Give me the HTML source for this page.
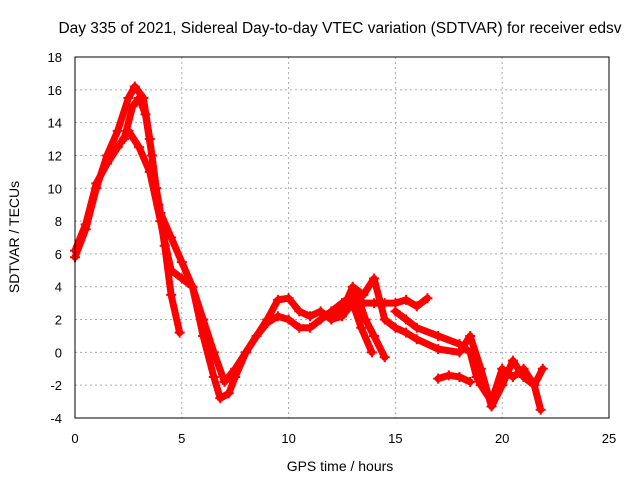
<!DOCTYPE html>
<html><head><meta charset="utf-8"><style>
body{margin:0;background:#fff}
svg{display:block;font-family:"Liberation Sans",sans-serif}
</style></head><body>
<svg id="c" width="640" height="480">
<rect width="640" height="480" fill="#fff"/>
<text x="340" y="33" font-size="15.5" text-anchor="middle">Day 335 of 2021, Sidereal Day-to-day VTEC variation (SDTVAR) for receiver edsv</text>
<g id="grid"></g><g id="series"></g>
<rect x="75" y="57" width="534" height="361" fill="none" stroke="#000"/>
<text x="340" y="471" font-size="14" text-anchor="middle">GPS time / hours</text>
<text transform="translate(19,237) rotate(-90)" font-size="14" text-anchor="middle">SDTVAR / TECUs</text>
</svg>
<script>
const xTicks=[0,5,10,15,20,25];
const yTicks=[-4,-2,0,2,4,6,8,10,12,14,16,18];
const trackA=[[0,5.8],[0.5,7.5],[1,10],[1.5,12],[2,13.5],[2.5,15.5],[2.8,16.2],[3.2,15.5],[3.5,13],[3.8,10],[4,8.5],[4.5,7],[5,5.5],[5.5,4],[6,2],[6.5,0],[7,-1.8],[7.5,-1],[8,0],[8.5,1],[9,1.8],[9.5,2.2],[10,2],[10.5,1.5],[11,1.5],[11.5,2],[12,2.5],[12.5,3],[13,3.5],[13.5,3],[14,3],[14.5,3],[15,3],[15.5,3.2],[16,2.8],[16.5,3.3]];
const trackB=[[0,6.2],[0.5,7.8],[1,10.3],[1.5,11.5],[2,12.5],[2.5,13.5],[3,12.5],[3.5,11],[4,8],[4.5,5],[5,4.5],[5.5,4],[6,1],[6.5,-1.5],[6.8,-2.8],[7.2,-2.5],[7.5,-1.5],[8,0],[9,2],[9.5,3.2],[10,3.3],[10.5,2.5],[11,2.2],[11.5,2.5],[12,2],[12.5,2.5],[13,4],[13.5,3.5],[14,4.5],[14.5,2],[15,1.5],[15.5,1.2],[16,0.8],[17,0.2],[18,0],[18.5,1],[19,-1],[19.5,-3.3],[20,-2],[20.5,-0.5],[21,-1.5],[21.5,-2],[21.8,-3.5]];
const trackC=[[2.3,13],[2.7,15],[3,15.5],[3.3,14.5],[3.6,12],[3.9,9],[4.2,6.5],[4.5,3.5],[4.9,1.2]];
const trackD=[[12,2],[12.5,2.2],[13,3],[13.4,1.5],[13.9,0]];
const trackF=[[13.2,3.5],[13.6,2],[14,1],[14.5,-0.3]];
const trackG=[[15,2.5],[15.5,2],[16,1.5],[17,1],[18,0.5],[18.5,0],[18.8,-1.5],[19,-2],[19.5,-3],[20,-1],[20.5,-1.5],[21,-1],[21.5,-2],[21.9,-1]];
const trackE=[[17,-1.6],[17.5,-1.4],[18,-1.5],[18.5,-1.8]];
const tracks=[trackA,trackB,trackC,trackD,trackF,trackG,trackE];
const NS='http://www.w3.org/2000/svg';
const X=v=>75+v*534/25, Y=v=>418-(v+4)*361/22;
const g=document.getElementById('grid'), s=document.getElementById('series');
function mk(t,a,p){const e=document.createElementNS(NS,t);for(const k in a)e.setAttribute(k,a[k]);p.appendChild(e);return e;}
xTicks.forEach(v=>{
 const l=mk('line',{x1:X(v),x2:X(v),y1:57,y2:418,stroke:'#aaa','stroke-dasharray':'2,3'},g);
 
 
 const t=mk('text',{x:X(v),y:443,'font-size':13,'text-anchor':'middle'},g);t.textContent=v;
 
 
});
yTicks.forEach(v=>{
 const l=mk('line',{x1:75,x2:609,y1:Y(v),y2:Y(v),stroke:'#aaa','stroke-dasharray':'2,3'},g);
 
 
 const t=mk('text',{x:62,y:Y(v)+5,'font-size':13,'text-anchor':'end'},g);t.textContent=v;
 
 
});
tracks.forEach((tr,i)=>{
 const p=mk('polyline',{points:tr.map(d=>X(d[0])+','+Y(d[1])).join(' '),fill:'none',stroke:'#f00','stroke-width':7,'stroke-linejoin':'round','stroke-linecap':'round'},s);
 
 
 tr.forEach(d=>{
  const m=mk('path',{d:`M${X(d[0])-5},${Y(d[1])}h10M${X(d[0])},${Y(d[1])-5}v10`,stroke:'#f00','stroke-width':2},s);
  
  
 });
});
</script>
</body></html>
